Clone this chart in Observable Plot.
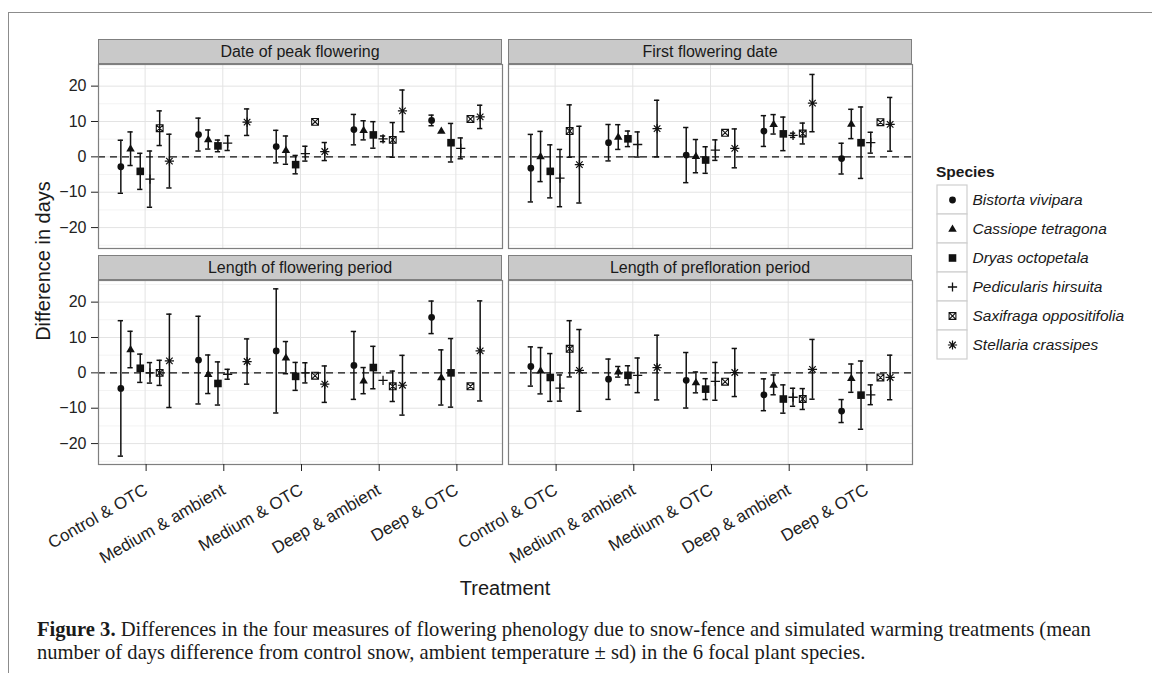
<!DOCTYPE html>
<html><head><meta charset="utf-8">
<script src="https://cdn.jsdelivr.net/npm/d3@7"></script>
<script src="https://cdn.jsdelivr.net/npm/@observablehq/plot@0.6"></script>
<style>
body{margin:0;background:#fff;}
#fig{position:relative;width:1152px;height:673px;overflow:hidden;background:#fff;font-family:"Liberation Sans",Arial,Helvetica,sans-serif;color:#1a1a1a;}
.abs{position:absolute;}
#border{left:8px;top:12px;width:1200px;height:700px;border-top:1.5px solid #8c8c8c;border-left:1.5px solid #8c8c8c;}
.strip{background:#c9c9c9;border:1px solid #7f7f7f;box-sizing:border-box;font-size:16px;text-align:center;line-height:23px;color:#1a1a1a;white-space:nowrap;}
#ytitle{font-size:20px;white-space:nowrap;transform:translate(-50%,-50%) rotate(-90deg);}
#xtitle{font-size:20px;white-space:nowrap;transform:translate(-50%,-50%);}
#legtitle{font-size:15.5px;font-weight:bold;}
#caption{font-family:"Liberation Serif","Times New Roman",serif;font-size:20.6px;line-height:23px;color:#1a1a1a;white-space:nowrap;}
</style></head>
<body><div id="fig"><div id="border" class="abs"></div></div>
<script>
// ---------------- data ----------------
const treatments = ["Control & OTC", "Medium & ambient", "Medium & OTC", "Deep & ambient", "Deep & OTC"];
const species = ["Bistorta vivipara", "Cassiope tetragona", "Dryas octopetala", "Pedicularis hirsuita", "Saxifraga oppositifolia", "Stellaria crassipes"];
const measures = ["Date of peak flowering", "First flowering date", "Length of flowering period", "Length of prefloration period"];
const yTicks = [-20, -10, 0, 10, 20];
const yMinor = [-25, -15, -5, 5, 15, 25];

// rows = species, columns = treatments (mean, sd in days)
const peakMean = [
  [-2.8, 6.3, 2.9, 7.7, 10.3],
  [2.3, 4.9, 1.9, 7.5, 7.3],
  [-4.1, 3.1, -2.2, 6.2, 4.0],
  [-6.3, 3.9, 0.9, 5.1, 2.4],
  [8.1, null, 9.9, 4.8, 10.7],
  [-1.2, 9.8, 1.5, 13.0, 11.3]];
const peakSd = [
  [7.5, 4.65, 4.6, 4.3, 1.5],
  [4.75, 2.7, 4.0, 2.7, 0],
  [5.1, 1.65, 2.6, 3.75, 5.45],
  [7.95, 2.1, 2.1, 0.8, 2.95],
  [4.9, null, 0, 4.9, 0],
  [7.6, 3.75, 2.55, 5.9, 3.3]];
const firstMean = [
  [-3.2, 4.0, 0.5, 7.3, -0.5],
  [0.1, 5.6, 0.2, 9.2, 9.3],
  [-4.1, 5.1, -0.9, 6.5, 4.0],
  [-6.0, 3.5, 1.9, 6.1, 4.0],
  [7.3, null, 6.8, 6.6, 9.8],
  [-2.2, 8.0, 2.4, 15.2, 9.2]];
const firstSd = [
  [9.55, 5.15, 7.8, 4.35, 4.35],
  [7.1, 3.5, 4.7, 2.75, 4.15],
  [7.5, 2.2, 3.75, 4.75, 10.1],
  [8.1, 3.55, 2.9, 0.6, 2.95],
  [7.4, null, 0, 2.95, 0],
  [10.85, 8.0, 5.5, 8.1, 7.6]];
const lengthMean = [
  [-4.4, 3.6, 6.2, 2.1, 15.7],
  [6.6, -0.4, 4.3, -2.2, -1.3],
  [1.3, -3.0, -1.0, 1.5, 0.0],
  [0.0, -0.4, 0.0, -2.1, null],
  [0.0, null, -0.8, -3.8, -3.8],
  [3.4, 3.2, -3.2, -3.5, 6.2]];
const lengthSd = [
  [19.15, 12.4, 17.55, 9.6, 4.6],
  [5.15, 5.45, 4.55, 3.7, 7.8],
  [4.0, 6.1, 3.95, 6.0, 9.7],
  [2.9, 1.4, 2.85, 0, null],
  [3.55, null, 0, 4.3, 0],
  [13.2, 6.4, 5.15, 8.45, 14.15]];
const preflorMean = [
  [1.8, -1.8, -2.1, -6.2, -10.8],
  [0.6, 0.3, -2.7, -3.4, -1.5],
  [-1.3, -0.7, -4.6, -7.4, -6.3],
  [-4.3, -0.7, -2.4, -6.9, -6.2],
  [6.8, null, -2.5, -7.4, -1.3],
  [0.7, 1.5, 0.1, 1.0, -1.3]];
const preflorSd = [
  [5.55, 5.7, 7.85, 4.5, 3.25],
  [6.55, 1.5, 2.95, 2.8, 4.0],
  [6.75, 2.7, 2.95, 4.0, 9.65],
  [3.7, 4.9, 5.35, 2.55, 2.8],
  [7.95, null, 0, 2.95, 0],
  [11.55, 9.15, 6.8, 8.45, 6.3]];

// ---------------- build table ----------------
const means = [peakMean, firstMean, lengthMean, preflorMean];
const sds = [peakSd, firstSd, lengthSd, preflorSd];
const dodge = 0.75 / species.length;
const rows = [];
means.forEach((M, p) => M.forEach((r, s) => r.forEach((m, t) => {
  if (m == null) return;
  const sd = sds[p][s][t];
  rows.push({p, s, t, mean: m, sd, lo: m - sd, hi: m + sd, x: t + 1 + (s - (species.length - 1) / 2) * dodge});
})));
const ext = d3.extent(rows.flatMap(d => [d.lo, d.hi]));
const pad = (ext[1] - ext[0]) * 0.05;
const yDomain = [ext[0] - pad, ext[1] + pad];
const xDomain = [1 - 0.6, treatments.length + 0.6];
const xTicks = treatments.map((_, i) => i + 1);
const fmt = d => d < 0 ? "\u2212" + (-d) : String(d);

// ---------------- symbols ----------------
const K = s => Math.sqrt(s / Math.PI);
const symCircle = {draw(c, size) { const r = K(size) * 0.85; c.moveTo(r, 0); c.arc(0, 0, r, 0, 2 * Math.PI); }};
const symTriangle = {draw(c, size) { const s = K(size) * 1.12; c.moveTo(0, -s); c.lineTo(s * 0.95, s * 0.62); c.lineTo(-s * 0.95, s * 0.62); c.closePath(); }};
const symSquare = {draw(c, size) { const s = K(size) * 0.95; c.rect(-s, -s, 2 * s, 2 * s); }};
const symPlus = {draw(c, size) { const s = K(size) * 1.15; c.moveTo(-s, 0); c.lineTo(s, 0); c.moveTo(0, -s); c.lineTo(0, s); }};
const symSquareX = {draw(c, size) { const s = K(size) * 0.85; c.rect(-s, -s, 2 * s, 2 * s); c.moveTo(-s, -s); c.lineTo(s, s); c.moveTo(s, -s); c.lineTo(-s, s); }};
const symAsterisk = {draw(c, size) { const s = K(size) * 1.15, d = s * 0.7071; c.moveTo(-s, 0); c.lineTo(s, 0); c.moveTo(0, -s); c.lineTo(0, s); c.moveTo(-d, -d); c.lineTo(d, d); c.moveTo(d, -d); c.lineTo(-d, d); }};
const ink = "#111";
const symStyles = [
  {symbol: symCircle, fill: ink, stroke: "none", strokeWidth: 0},
  {symbol: symTriangle, fill: ink, stroke: "none", strokeWidth: 0},
  {symbol: symSquare, fill: ink, stroke: "none", strokeWidth: 0},
  {symbol: symPlus, fill: "none", stroke: ink, strokeWidth: 1.3},
  {symbol: symSquareX, fill: "none", stroke: ink, strokeWidth: 1.1},
  {symbol: symAsterisk, fill: "none", stroke: ink, strokeWidth: 1.2}];

// ---------------- layout ----------------
const fig = document.getElementById("fig");
const FX = [98, 508], FY = [64, 280], FW = 404, FH = 184, CAP = 0.034;

function el(tag, cls, css, html) {
  const e = document.createElement(tag);
  e.className = cls; Object.assign(e.style, css); if (html != null) e.innerHTML = html;
  fig.appendChild(e); return e;
}

measures.forEach((name, p) => {
  const col = p % 2, row = Math.floor(p / 2);
  const data = rows.filter(d => d.p === p);
  const bars = data.filter(d => d.sd > 0);
  const mL = col === 0 ? 45 : 3, mR = 3, mT = 3, mB = row === 1 ? 140 : 3;
  const svg = Plot.plot({
    width: FW + mL + mR, height: FH + mT + mB,
    marginLeft: mL, marginRight: mR, marginTop: mT, marginBottom: mB,
    x: {type: "linear", domain: xDomain, axis: null},
    y: {type: "linear", domain: yDomain, axis: null},
    style: {position: "absolute", left: (FX[col] - mL) + "px", top: (FY[row] - mT) + "px", overflow: "visible",
            background: "transparent", fontFamily: "'Liberation Sans', Arial, sans-serif", maxWidth: "none", color: "#222"},
    marks: [
      Plot.ruleY(yMinor.filter(v => v > yDomain[0] && v < yDomain[1]), {stroke: "#f3f3f3", strokeWidth: 1}),
      Plot.ruleY(yTicks, {stroke: "#e3e3e3", strokeWidth: 1}),
      Plot.ruleX(xTicks, {stroke: "#e3e3e3", strokeWidth: 1}),
      Plot.ruleY([0], {stroke: ink, strokeWidth: 1.4, strokeDasharray: "7,5"}),
      Plot.ruleX(bars, {x: "x", y1: "lo", y2: "hi", stroke: ink, strokeWidth: 1.5}),
      Plot.ruleY(bars, {y: "hi", x1: d => d.x - CAP, x2: d => d.x + CAP, stroke: ink, strokeWidth: 1.5}),
      Plot.ruleY(bars, {y: "lo", x1: d => d.x - CAP, x2: d => d.x + CAP, stroke: ink, strokeWidth: 1.5}),
      ...symStyles.map((st, i) => Plot.dot(data.filter(d => d.s === i), {x: "x", y: "mean", r: 4, symbol: st.symbol, fill: st.fill, stroke: st.stroke, strokeWidth: st.strokeWidth})),
      Plot.frame({stroke: "#7f7f7f", strokeWidth: 1.2}),
      col === 0 ? Plot.axisY(yTicks, {anchor: "left", tickSize: 7, tickPadding: 5, tickFormat: fmt, fontSize: 16, label: null, color: "#222"}) : null,
      row === 1 ? Plot.axisX(xTicks, {anchor: "bottom", tickSize: 7, tickPadding: 17, tickRotate: -30, dx: 1, tickFormat: i => treatments[i - 1], fontSize: 17, label: null, color: "#222"}) : null
    ]
  });
  fig.appendChild(svg);
  el("div", "abs strip", {left: FX[col] + "px", top: (FY[row] - 25) + "px", width: FW + "px", height: "25px"}, name);
});

// axis titles
el("div", "abs", {left: "43px", top: "261px"}, "Difference in days").id = "ytitle";
el("div", "abs", {left: "505px", top: "588px"}, "Treatment").id = "xtitle";

// legend
el("div", "abs", {left: "936px", top: "163px"}, "Species").id = "legtitle";
const keyH = 29.3, keyW = 30;
const legend = Plot.plot({
  width: 240, height: species.length * keyH + 2, margin: 0,
  x: {type: "band", domain: ["key"], range: [0.5, 0.5 + keyW], padding: 0, axis: null},
  y: {type: "band", domain: species, range: [0.5, 0.5 + species.length * keyH], padding: 0, axis: null},
  style: {position: "absolute", left: "935.5px", top: "184px", overflow: "visible", background: "transparent",
          fontFamily: "'Liberation Sans', Arial, sans-serif", maxWidth: "none", color: "#1a1a1a"},
  marks: [
    Plot.cell(species, {x: () => "key", y: d => d, fill: "white", stroke: "#cfcfcf", strokeWidth: 1.2}),
    ...symStyles.map((st, i) => Plot.dot([species[i]], {x: () => "key", y: d => d, r: 4, symbol: st.symbol, fill: st.fill, stroke: st.stroke, strokeWidth: st.strokeWidth})),
    Plot.text(species, {x: () => "key", y: d => d, dx: 20, textAnchor: "start", fontStyle: "italic", fontSize: 15.5, fill: "#1a1a1a"})
  ]
});
fig.appendChild(legend);

// caption
el("div", "abs", {left: "37px", top: "618px"},
  "<b>Figure 3.</b> Differences in the four measures of flowering phenology due to snow-fence and simulated warming treatments (mean<br>" +
  "number of days difference from control snow, ambient temperature \u00b1 sd) in the 6 focal plant species.").id = "caption";
</script></body></html>
